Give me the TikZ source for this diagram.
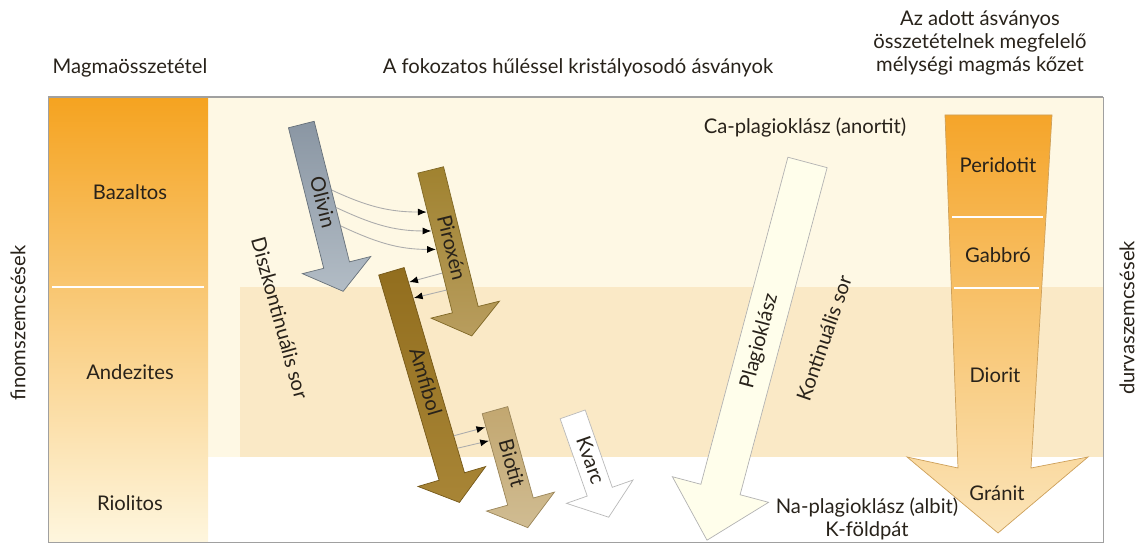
\documentclass[tikz,border=0pt]{standalone}
\usepackage{fontspec}
\setmainfont{Lato}
\usetikzlibrary{arrows.meta, shapes.arrows, positioning, calc}
\definecolor{creamband}{RGB}{254,248,228}
\definecolor{beigeband}{RGB}{250,233,198}
\definecolor{framegray}{RGB}{160,160,160}
\definecolor{magmatop}{RGB}{245,163,32}
\definecolor{magmamid}{RGB}{250,212,138}
\definecolor{magmabot}{RGB}{254,246,222}
\definecolor{olivintop}{RGB}{138,150,163}
\definecolor{olivinbot}{RGB}{178,188,197}
\definecolor{piroxtop}{RGB}{160,130,47}
\definecolor{piroxbot}{RGB}{184,157,94}
\definecolor{amfitop}{RGB}{146,110,30}
\definecolor{amfibot}{RGB}{168,133,54}
\definecolor{biotop}{RGB}{194,167,112}
\definecolor{biobot}{RGB}{208,188,146}
\definecolor{rocktop}{RGB}{245,165,42}
\definecolor{rockmid}{RGB}{248,194,100}
\definecolor{rockbot}{RGB}{251,229,186}
\definecolor{rockedge}{RGB}{205,160,90}
\definecolor{inktext}{RGB}{40,34,26}
\def\lblfont{\fontsize{11.5}{13}\selectfont}

\begin{document}
\begin{tikzpicture}[x=0.02cm, y=0.02cm, >=Latex]

  \tikzset{
    mineral/.style = {
      single arrow, draw, line width=0.4pt,
      single arrow tip angle=105, single arrow head extend=0.44cm,
      minimum width=1.4cm, inner xsep=1pt, inner ysep=2.35pt,
      text height=8pt, text depth=2pt, font=\lblfont, text=inktext
    },
    bigmineral/.style = {
      mineral, single arrow tip angle=87, single arrow head extend=0.59cm,
      minimum width=1.98cm, inner ysep=6.35pt
    },
    heading/.style = {font=\lblfont, text=inktext, align=center},
    magmalbl/.style = {font=\lblfont, text=inktext},
    seqlbl/.style = {font=\lblfont, text=inktext, inner sep=1pt},
    link/.style = {
      gray!65, line width=0.5pt,
      -{Latex[length=5pt, width=4pt, color=black]}
    }
  }

  \useasboundingbox (0,0) rectangle (1147,544);

  % --- Background bands and frame -------------------------------------------
  \fill [creamband] (208,87) rectangle (1103,447);
  \fill [beigeband] (240,87) rectangle (1103,257);
  \shade [top color=magmatop, middle color=magmamid, bottom color=magmabot]
    (48,2) rectangle (208,447);
  \draw [white, line width=1.2pt] (52,257) -- (204,257);
  \draw [framegray, line width=0.4pt] (48,2) rectangle (1103,447);
  \draw [framegray, line width=0.9pt] (48,447) -- (1103,447);

  % --- Headings -------------------------------------------------------------
  \node (hmagma) [heading] at (130,476) {Magmaösszetétel};
  \node (hmin)   [heading] at (578,476) {A fokozatos hűléssel kristályosodó ásványok};
  \node (hrock)  [heading] at (980,501)
    {Az adott ásványos\\ összetételnek megfelelő\\ mélységi magmás kőzet};

  \node (fine)   [heading, rotate=90] at (18,221)   {finomszemcsések};
  \node (coarse) [heading, rotate=90] at (1127,226) {durvaszemcsések};

  % --- Magma composition column ---------------------------------------------
  \node (bazalt)  [magmalbl] at (130,352) {Bazaltos};
  \node (andezit) [magmalbl] at (130,172) {Andezites};
  \node (riolit)  [magmalbl] at (130,41)  {Riolitos};

  % --- Discontinuous series -------------------------------------------------
  \node (olivin)  [mineral, rotate=-75.9, minimum height=3.44cm,
                   draw=olivintop!75!black, top color=olivintop, bottom color=olivinbot]
                  at (321,341) {Olivin};
  \node (piroxen) [mineral, rotate=-76.1, minimum height=3.42cm,
                   draw=piroxtop!80!black, top color=piroxtop, bottom color=piroxbot]
                  at (450,296) {Piroxén};
  \node (amfibol) [mineral, rotate=-73.6, minimum height=4.82cm,
                   draw=amfitop!80!black, top color=amfitop, bottom color=amfibot]
                  at (424,162) {Amfibol};
  \node (biotit)  [mineral, rotate=-74.4, minimum height=2.44cm,
                   draw=biotop!80!black, top color=biotop, bottom color=biobot]
                  at (510,80) {Biotit};
  \node (kvarc)   [mineral, rotate=-70.7, minimum height=2.18cm,
                   draw=gray!55, fill=white]
                  at (589,83) {Kvarc};

  \node (diszkont) [seqlbl, rotate=-74.6] at (280,226) {Diszkontinuális sor};

  % --- Continuous series ----------------------------------------------------
  \node (plagio) [bigmineral, rotate=75.1, shape border rotate=180,
                  minimum height=7.82cm, draw=gray!60, fill=white!92!yellow]
                 at (760,203) {Plagioklász};
  \node (kont)   [seqlbl, rotate=71] at (824,206) {Kontinuális sor};
  \node (anortit) [heading] at (805,416) {Ca-plagioklász (anortit)};
  \node (albit)  [heading] at (867,25)
    {Na-plagioklász (albit)\\ K-földpát};

  % --- Plutonic rock arrow --------------------------------------------------
  \shade [draw=rockedge, line width=0.4pt,
          top color=rocktop, middle color=rockmid, bottom color=rockbot]
    (945,429) -- (1052,429) -- (1031,76) -- (1088,87) -- (998,11)
    -- (907,87) -- (958,76) -- cycle;
  \draw [white, line width=1.2pt] (952,327) -- (1043,327);
  \draw [white, line width=1.2pt] (954,256) -- (1039,256);

  \node (peridotit) [magmalbl] at (998,379) {Peridotit};
  \node (gabbro)    [magmalbl] at (998,289) {Gabbró};
  \node (diorit)    [magmalbl] at (995,169) {Diorit};
  \node (granit)    [magmalbl] at (997,51)  {Gránit};

  % --- Reaction links (offsets along / across each shaft) -------------------
  \foreach \s/\t in {-0.20/-0.81, 0.16/-0.42, 0.54/-0.04}
    \draw [link] ($(olivin.center)+(-75.9:\s cm)+(14.1:0.27cm)$)
      to [out=-25, in=180]
      ($(piroxen.center)+(-76.1:\t cm)+(-166.1:0.28cm)$);
  \foreach \s/\t in {0.45/-2.00, 0.80/-1.67}
    \draw [link] ($(piroxen.center)+(-76.1:\s cm)+(-166.1:0.27cm)$)
      -- ($(amfibol.center)+(-73.6:\t cm)+(16.4:0.28cm)$);
  \foreach \s/\t in {1.20/-0.84, 1.46/-0.56}
    \draw [link] ($(amfibol.center)+(-73.6:\s cm)+(16.4:0.27cm)$)
      -- ($(biotit.center)+(-74.4:\t cm)+(-164.4:0.28cm)$);

\end{tikzpicture}
\end{document}
